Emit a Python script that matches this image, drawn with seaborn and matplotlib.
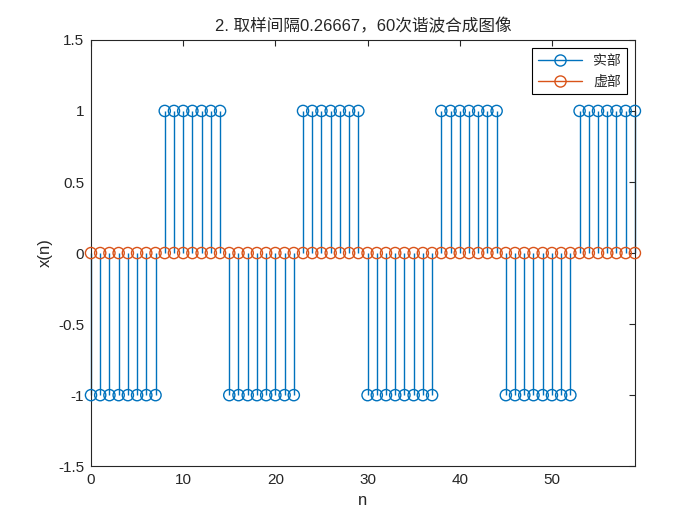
import numpy as np
import pandas as pd
import seaborn as sns
import matplotlib.pyplot as plt

# datos: parte real e imaginaria de la señal
n = list(range(60))
real_part = ([-1] * 8 + [1] * 7) * 4
imag_part = [0] * 60

titulo = "2. 取样间隔0.26667，60次谐波合成图像"
etiquetas = ["实部", "虚部"]

df = pd.DataFrame({"n": n, "real": real_part, "imag": imag_part})

sns.set_style("white")
plt.rcParams['font.family'] = ['Liberation Sans', 'Noto Sans CJK SC', 'DejaVu Sans']

azul = "#0072BD"
naranja = "#D95319"

fig = plt.figure(figsize=(7, 5.25), dpi=100)
ax = fig.add_axes([0.13, 0.112, 0.777, 0.812])

# tallos
ax.vlines(df["n"], 0, df["real"], color=azul, lw=1, zorder=2, clip_on=False)
sns.scatterplot(x="n", y="real", data=df, ax=ax, marker="o", s=65,
                facecolors="none", edgecolor=azul, linewidth=1, zorder=3,
                legend=False, clip_on=False)
ax.vlines(df["n"], 0, df["imag"], color=naranja, lw=1, zorder=4, clip_on=False)
sns.scatterplot(x="n", y="imag", data=df, ax=ax, marker="o", s=65,
                facecolors="none", edgecolor=naranja, linewidth=1, zorder=5,
                legend=False, clip_on=False)

# leyenda
h1 = plt.Line2D([0, 1], [0, 0], color=azul, lw=1, marker="o", markersize=8,
                markerfacecolor="none", markevery=[1])
h2 = plt.Line2D([0, 1], [0, 0], color=naranja, lw=1, marker="o", markersize=8,
                markerfacecolor="none", markevery=[1])
leg = ax.legend([h1, h2], etiquetas, loc="upper right", fancybox=False,
                framealpha=1, edgecolor="black", borderaxespad=0.6,
                handlelength=3.2, prop={'family': ['Noto Sans CJK SC'], 'size': 10})
leg.get_frame().set_linewidth(0.8)

ax.set_xlim(0, 59)
ax.set_ylim(-1.5, 1.5)
ax.set_xticks(range(0, 60, 10))
ax.set_yticks(np.arange(-1.5, 1.51, 0.5))
ax.set_yticklabels(["-1.5", "-1", "-0.5", "0", "0.5", "1", "1.5"])

ax.tick_params(direction="in", length=4, width=0.8, top=True, right=True,
               labelsize=11, colors="#262626", pad=5)
for sp in ax.spines.values():
    sp.set_color("#262626")
    sp.set_linewidth(0.8)

ax.set_xlabel("n", fontsize=12, color="#262626")
ax.set_ylabel("x(n)", fontsize=12, color="#262626")
ax.set_title(titulo, fontsize=12, color="#262626", pad=6)

plt.savefig("out.png", dpi=100)
